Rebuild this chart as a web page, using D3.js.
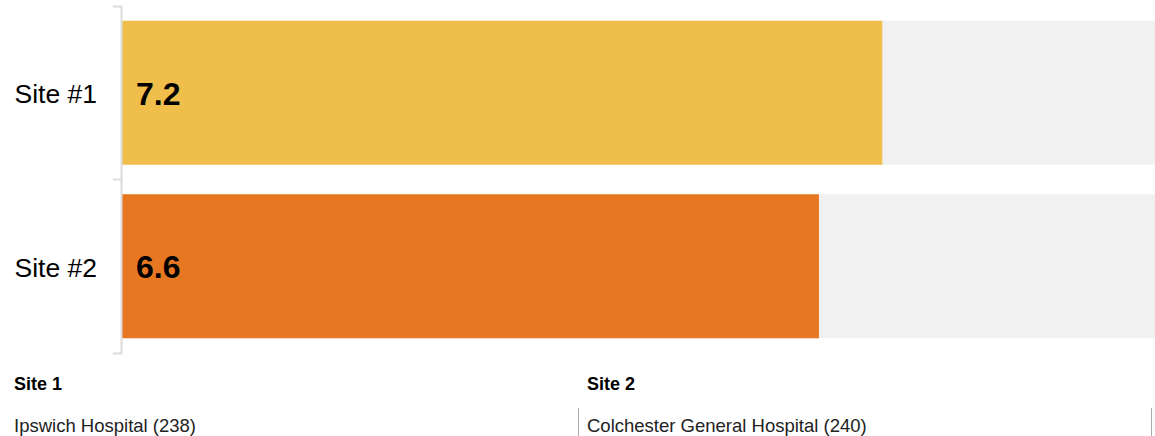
<!DOCTYPE html>
<html>
<head>
<meta charset="utf-8">
<script src="https://cdn.jsdelivr.net/npm/d3@7"></script>
<style>
  body { margin: 0; background: #fff; font-family: "Liberation Sans", Arial, sans-serif; }
</style>
</head>
<body>
<div id="chart"></div>
<script>
var sites = ["Site #1", "Site #2"];
var values = [7.2, 6.6];
var bar_colors = ["#f0be4b", "#e87722"];
var max_value = 10;
var footer_titles = ["Site 1", "Site 2"];
var footer_names = ["Ipswich Hospital (238)", "Colchester General Hospital (240)"];

var width = 1155, height = 436;
var svg = d3.select("#chart")
  .append("svg")
  .attr("width", width)
  .attr("height", height);

// band scale for sites, linear for values
var y = d3.scaleBand()
  .domain(sites)
  .range([6, 353])
  .paddingInner(0.17)
  .paddingOuter(0.085);

var x = d3.scaleLinear()
  .domain([0, max_value])
  .range([122, 1178]);

// background bars
svg.selectAll(".bg")
  .data(sites).enter()
  .append("rect")
  .attr("x", x(0))
  .attr("y", function(d) { return y(d); })
  .attr("width", x(max_value) - x(0))
  .attr("height", y.bandwidth())
  .attr("fill", "#f1f1f1");

// value bars
svg.selectAll(".bar")
  .data(values).enter()
  .append("rect")
  .attr("x", x(0))
  .attr("y", function(d, i) { return y(sites[i]); })
  .attr("width", function(d) { return x(d) - x(0); })
  .attr("height", y.bandwidth())
  .attr("fill", function(d, i) { return bar_colors[i]; });

// value labels
svg.selectAll(".val")
  .data(values).enter()
  .append("text")
  .attr("x", x(0) + 14)
  .attr("y", function(d, i) { return y(sites[i]) + y.bandwidth() / 2; })
  .attr("dy", "0.38em")
  .style("font-size", "32px")
  .style("font-weight", "bold")
  .style("fill", "#000")
  .text(function(d) { return d.toFixed(1); });

// left axis
var axis = svg.append("g")
  .attr("transform", "translate(121,0)")
  .call(d3.axisLeft(y).tickSize(0).tickSizeOuter(8).tickPadding(24));
axis.select(".domain").attr("stroke", "#dcdcdc").attr("stroke-width", 2);
axis.selectAll("text")
  .attr("dy", "0.4em")
  .style("font-size", "26.5px")
  .style("font-family", "'Liberation Sans', Arial, sans-serif")
  .style("fill", "#000");

// separator tick between bands
var mid = (y(sites[0]) + y.bandwidth() + y(sites[1])) / 2;
axis.append("line")
  .attr("x1", -8).attr("x2", 0)
  .attr("y1", mid).attr("y2", mid)
  .attr("stroke", "#dcdcdc")
  .attr("stroke-width", 2);

// footer
var colX = d3.scaleBand().domain(footer_titles).range([5, 1151]);
var footer = svg.selectAll(".footer")
  .data(footer_titles).enter()
  .append("g")
  .attr("transform", function(d) { return "translate(" + colX(d) + ",0)"; });

footer.append("text")
  .attr("x", 9)
  .attr("y", 390)
  .style("font-size", "18px")
  .style("font-weight", "bold")
  .text(function(d) { return d; });

footer.append("text")
  .attr("x", 9)
  .attr("y", 432)
  .style("font-size", "18.5px")
  .style("fill", "#222")
  .text(function(d, i) { return footer_names[i]; });

footer.append("line")
  .attr("x1", colX.bandwidth() + 0.5)
  .attr("x2", colX.bandwidth() + 0.5)
  .attr("y1", 408)
  .attr("y2", 436)
  .attr("stroke", "#aaa")
  .attr("stroke-width", 1);
</script>
</body>
</html>
